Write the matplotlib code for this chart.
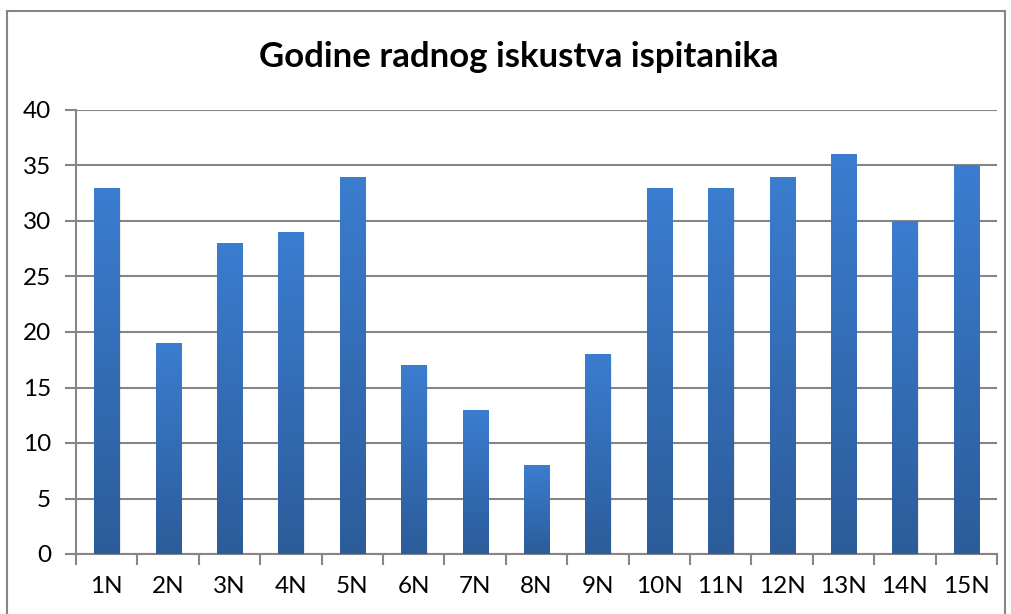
import numpy as np
import matplotlib
matplotlib.use("Agg")
import matplotlib.pyplot as plt
from matplotlib.colors import LinearSegmentedColormap
from matplotlib.patches import Rectangle

# podaci
kategorije = ["1N", "2N", "3N", "4N", "5N", "6N", "7N", "8N", "9N",
              "10N", "11N", "12N", "13N", "14N", "15N"]
godine = [33, 19, 28, 29, 34, 17, 13, 8, 18, 33, 33, 34, 36, 30, 35]
y_ticks = [0, 5, 10, 15, 20, 25, 30, 35, 40]

plt.rcParams['font.family'] = ['Lato', 'DejaVu Sans']
siva = "#868686"

fig = plt.figure(figsize=(10.12, 6.14), dpi=100)
ax = fig.add_axes([76 / 1012, 1 - 554 / 614, 921 / 1012, 444 / 614])

x = np.arange(len(kategorije))
sirina = 0.41
bars = ax.bar(x, godine, width=sirina, color="none", zorder=3)

cmap = LinearSegmentedColormap.from_list("grad", ["#2C5C9A", "#3B7DD0"])
grad = np.linspace(0, 1, 256).reshape(-1, 1)
for b in bars:
    x0, w, h = b.get_x(), b.get_width(), b.get_height()
    # blaga sjena
    ax.add_patch(Rectangle((x0 + 0.02, 0), w, h - 0.1, color="#000000",
                           alpha=0.08, zorder=2, lw=0))
    im = ax.imshow(grad, cmap=cmap, origin="lower", aspect="auto",
                   extent=(x0, x0 + w, 0, h), zorder=3)
    im.set_clip_path(b)

ax.set_xlim(-0.5, len(kategorije) - 0.5)
ax.set_ylim(0, 40)
ax.set_yticks(y_ticks)
ax.set_xticks(x)
ax.set_xticklabels(kategorije)
ax.set_xticks(np.arange(-0.5, len(kategorije), 1), minor=True)
ax.tick_params(axis="x", which="major", length=0, pad=16, labelsize=17.5)
ax.tick_params(axis="x", which="minor", length=8, width=1.5, color=siva)
ax.tick_params(axis="y", length=8, width=1.5, color=siva, labelsize=17.5, pad=10)

ax.grid(axis="y", color=siva, lw=1.5, zorder=1)
for s in ["top", "right"]:
    ax.spines[s].set_visible(False)
for s in ["left", "bottom"]:
    ax.spines[s].set_color(siva)
    ax.spines[s].set_linewidth(1.5)

fig.text(519 / 1012, 1 - 57 / 614, "Godine radnog iskustva ispitanika",
         ha="center", va="center", fontsize=25, fontweight="bold")

# okvir oko grafikona
fig.patches.append(Rectangle((7 / 1012, -0.05), 998 / 1012, 1 - 11 / 614 + 0.05,
                             transform=fig.transFigure, fill=False,
                             edgecolor=siva, lw=1.5))

fig.savefig("out.png", dpi=100)
